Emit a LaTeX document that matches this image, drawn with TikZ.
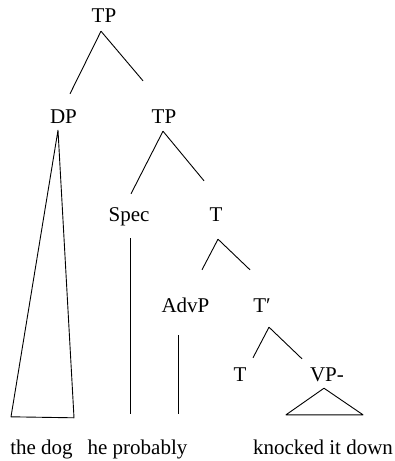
\documentclass[tikz,border=0pt]{standalone}
\usepackage{fontspec}
\setmainfont{Liberation Serif}
\tikzstyle{cat}=[inner sep=0pt,anchor=base,text height=14pt,text depth=0pt,font=\fontsize{21}{25}\selectfont]
\tikzstyle{branch}=[draw,line width=0.9pt,line join=round,-]

\begin{document}
\begin{tikzpicture}[x=1pt,y=-1pt]
    \useasboundingbox (0,0) rectangle (394,461);
    % Draw the tree for "the dog he probably knocked it down"
    % First we place the categories and the words (at their baselines)
    \foreach \pos/\name/\txt in {{(104,22)/TP1/TP}, {(63.5,123)/DP/DP}, {(164,123)/TP2/TP}, {(129,221)/Spec/Spec}, {(216,221)/T1/T}, {(185.5,312)/AdvP/AdvP}, {(262,312)/Tbar/T′}, {(240,381)/T2/T}, {(327,381)/VP/VP-}, {(41.5,454)/w1/the dog}, {(137.5,454)/w2/he probably}, {(323,454)/w3/knocked it down}}
        \node[cat] (\name) at \pos {\txt};

    % The branching points under the mothers
    \foreach \name/\dx/\dy in {TP1/-3/9, TP2/-1/8, T1/2/18, Tbar/7/15, DP/-5.5/7, Spec/1.7/17, AdvP/-6.8/23, VP/-3/7}
        \coordinate (\name-a) at ([shift={(\dx,\dy)}]\name.south);

    % Connect mothers with daughters
    \foreach \source/\dest/\dx/\dy in {TP1/DP/6.5/-15, TP1/TP2/-21/-28, TP2/Spec/2/-13, TP2/T1/-12/-26, T1/AdvP/16.5/-28, T1/Tbar/-12/-28, Tbar/T2/13/-9, Tbar/VP/-25/-8}
        \path[branch] (\source-a) -- ([shift={(\dx,\dy)}]\dest.north);

    % Triangles and bars down to the words
    \coordinate (w2-t) at ([shift={(0,-26)}]w2.north);
    \path[branch] (DP-a) -- ([shift={(-30.5,-23)}]w1.north) -- ([shift={(32.5,-22)}]w1.north) -- cycle;
    \path[branch] (Spec-a) -- (Spec-a |- w2-t);
    \path[branch] (AdvP-a) -- (AdvP-a |- w2-t);
    \path[branch] (VP-a) -- ([shift={(-37,-25)}]w3.north) -- ([shift={(40,-25)}]w3.north) -- cycle;
\end{tikzpicture}
\end{document}
